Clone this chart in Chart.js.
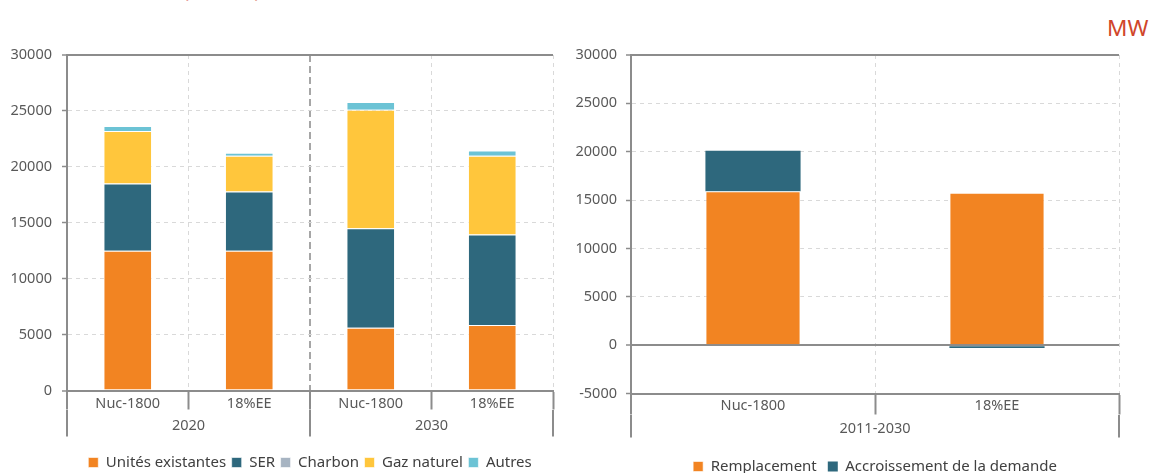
<!DOCTYPE html>
<html>
<head>
<meta charset="utf-8">
<script src="https://cdn.jsdelivr.net/npm/chart.js@4"></script>
<style>
    body { margin: 0; width: 1159px; height: 473px; overflow: hidden; background: #fff; position: relative; font-family: 'Noto Sans', sans-serif; }
    #left-chart { position: absolute; left: 0; top: 0; }
    #right-chart { position: absolute; left: 560px; top: 0; }
    .red-text { position: absolute; color: #d0462a; line-height: 1; white-space: nowrap; }
    #cut-title { left: 183px; top: -20px; font-size: 20px; }
    #unit { left: 1107px; top: 17px; font-size: 22.5px; }
</style>
</head>
<body>
<div id="cut-title" class="red-text">(en MW),</div>
<div id="unit" class="red-text">MW</div>
<canvas id="left-chart" width="580" height="480"></canvas>
<canvas id="right-chart" width="599" height="484"></canvas>

<script>
/* Left chart data: installed capacity by scenario */
let scenarios = ['Nuc-1800', '18%EE', 'Nuc-1800', '18%EE']
let years = ['2020', '2030']
let unitesExistantes = [12500, 12500, 5600, 5850]
let ser = [6000, 5300, 8900, 8100]
let charbon = [0, 0, 0, 0]
let gazNaturel = [4700, 3200, 10600, 7050]
let autres = [450, 250, 700, 450]

/* Right chart data: new capacity 2011-2030 */
let periodScenarios = ['Nuc-1800', '18%EE']
let periods = ['2011-2030']
let remplacement = [15900, 15750]
let accroissement = [4200, -300]

// y axis ranges
let leftRange = [0, 30000]
let rightRange = [-5000, 30000]
let yStep = 5000

let axisGray = '#8c8c8c'
let gridGray = '#d9d9d9'
let textGray = '#595959'
let barEdge = 'rgba(255, 255, 255, 0.6)'

Chart.defaults.font.family = "'Noto Sans', sans-serif"
Chart.defaults.font.size = 14.5
Chart.defaults.color = textGray
Chart.defaults.elements.bar.borderColor = barEdge
Chart.defaults.elements.bar.borderWidth = 1


function yScale(range, width, labelPadding) {
    let isSolid = ctx => ctx.tick && (ctx.tick.value === range[1] || ctx.tick.value === 0)
    return {
        stacked: true,
        min: range[0],
        max: range[1],
        ticks: { stepSize: yStep, padding: labelPadding, color: textGray, callback: value => String(value) },
        grid: {
            color: ctx => isSolid(ctx) ? axisGray : gridGray,
            lineWidth: ctx => isSolid(ctx) ? 2 : 1,
            tickColor: axisGray,
            tickWidth: 1.5,
            tickLength: 5,
            tickBorderDash: []
        },
        border: { color: axisGray, width: 2, dash: ctx => isSolid(ctx) ? [] : [4, 4] },
        afterFit: s => { s.width = width }
    }
}

function xScale(count, middleIndex, tickLength, labelPadding) {
    // edge lines are the frame, the middle one splits the year groups
    let isEdge = ctx => ctx.index === 0 || ctx.index === count
    return {
        stacked: true,
        ticks: { padding: labelPadding, maxRotation: 0, autoSkip: false, color: textGray },
        grid: {
            offset: true,
            color: ctx => isEdge(ctx) ? axisGray : (ctx.index === middleIndex ? '#a6a6a6' : gridGray),
            lineWidth: ctx => (isEdge(ctx) || ctx.index === middleIndex) ? 2 : 1,
            tickColor: axisGray,
            tickWidth: 2,
            tickLength: tickLength,
            tickBorderDash: []
        },
        border: {
            color: axisGray,
            width: 2,
            dash: ctx => isEdge(ctx) ? [] : (ctx.index === middleIndex ? [7, 4] : [4, 4])
        },
        afterFit: s => { s.height = tickLength }
    }
}

function groupScale(labels, tickLength, labelPadding) {
    return {
        type: 'category',
        labels: labels,
        position: 'bottom',
        weight: 1,
        ticks: { padding: labelPadding, maxRotation: 0, color: textGray },
        grid: {
            offset: true,
            drawOnChartArea: false,
            color: axisGray,
            lineWidth: 2,
            tickLength: tickLength,
            tickBorderDash: []
        },
        border: { display: false },
        afterFit: s => { s.height = tickLength }
    }
}

function legendOptions(itemPadding, gapAbove) {
    return {
        position: 'bottom',
        fullSize: false, // centred under the plot area, not the whole canvas
        // empty title only pushes the items down
        title: { display: true, text: '', font: { size: 1 }, padding: { top: gapAbove, bottom: 0 } },
        labels: { boxWidth: 10, boxHeight: 10, padding: itemPadding, color: '#404040', font: { size: 15 } }
    }
}


let leftChart = new Chart(document.querySelector('#left-chart'), {
    type: 'bar',
    data: {
        labels: scenarios,
        datasets: [
            { label: 'Unités existantes', data: unitesExistantes, backgroundColor: '#f28422' },
            { label: 'SER', data: ser, backgroundColor: '#2e687d' },
            { label: 'Charbon', data: charbon, backgroundColor: '#a7b4c2' },
            { label: 'Gaz naturel', data: gazNaturel, backgroundColor: '#ffc63c' },
            { label: 'Autres', data: autres, backgroundColor: '#6cc3d5' }
        ]
    },
    options: {
        responsive: false,
        animation: false,
        barPercentage: 0.4,
        categoryPercentage: 1,
        layout: { padding: { top: 55, right: 27, left: 0, bottom: 0 } },
        scales: {
            x: xScale(4, 2, 19, -14.5),
            x2: groupScale(years, 27, -19.5),
            y: yScale(leftRange, 67, 10)
        },
        plugins: { legend: legendOptions(5.5, 11.8), tooltip: { enabled: false } }
    }
})


let rightChart = new Chart(document.querySelector('#right-chart'), {
    type: 'bar',
    data: {
        labels: periodScenarios,
        datasets: [
            { label: 'Remplacement', data: remplacement, backgroundColor: '#f28422' },
            // thin negative sliver, no edge so the colour stays visible
            { label: 'Accroissement de la demande', data: accroissement, backgroundColor: '#2e687d', borderWidth: 0 }
        ]
    },
    options: {
        responsive: false,
        animation: false,
        barPercentage: 0.39,
        categoryPercentage: 1,
        layout: { padding: { top: 55, right: 40, left: 0, bottom: 0 } },
        scales: {
            x: xScale(2, -1, 21, -17),
            x2: groupScale(periods, 23, -17),
            y: yScale(rightRange, 71, 9)
        },
        plugins: { legend: legendOptions(11, 9.3), tooltip: { enabled: false } }
    }
})
</script>
</body>
</html>
